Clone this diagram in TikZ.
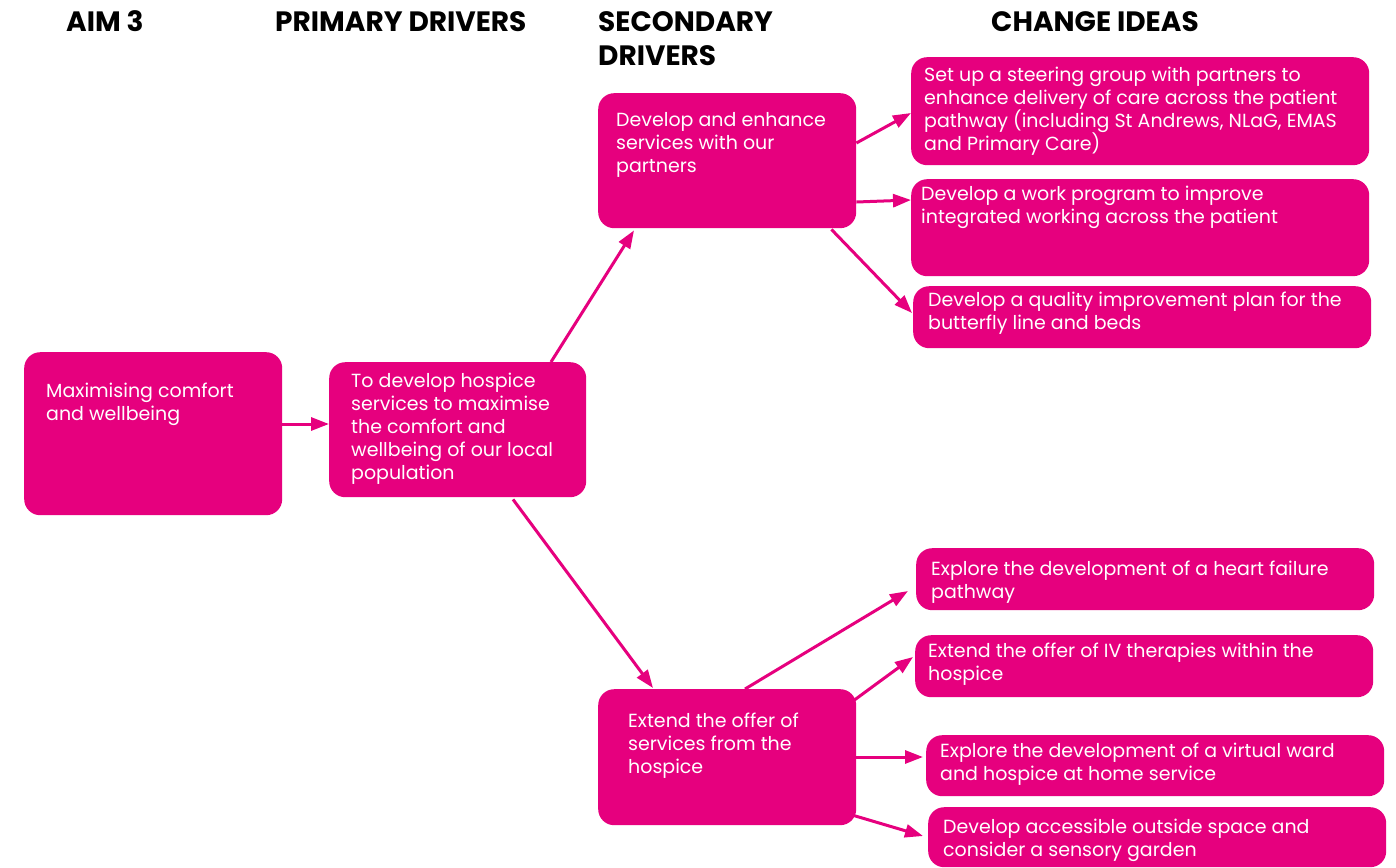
\documentclass[tikz,border=0pt]{standalone}
\usepackage{fontspec}
\setmainfont{Poppins}
\usetikzlibrary{arrows.meta,calc}
\definecolor{hpink}{HTML}{E6007E}
\newcommand{\boxtxt}[5]{\parbox[c][#2pt][t]{#1pt}{\vspace*{#4pt}\raggedright\leftskip=#3pt\relax\strut #5}}
\tikzset{
  box/.style={fill=hpink, draw=none, rounded corners=16pt, anchor=north west, inner sep=0pt, text=white, font=\fontsize{19}{23}\selectfont},
  head/.style={anchor=base west, inner sep=0pt, font=\fontsize{28}{34}\selectfont\bfseries},
  conn/.style={draw=hpink, line width=3pt, -{Triangle[length=18pt,width=13pt]}}
}
\begin{document}
\begin{tikzpicture}[x=1pt,y=-1pt]
\useasboundingbox[fill=white] (0,0) rectangle (1396,867);
% headings
\node[head] (h1) at (66,31.5) {AIM 3};
\node[head] (h2) at (275,31.5) {PRIMARY DRIVERS};
\node[head] (h3) at (598,31.5) {SECONDARY};
\node[head] (h3b) at (598,65.5) {DRIVERS};
\node[head] (h4) at (991,31.5) {CHANGE IDEAS};
% boxes
\node[box] (aim) at (24,352) {\boxtxt{258}{163}{22}{28.9}{Maximising comfort\\and wellbeing}};
\node[box] (pri) at (329,362) {\boxtxt{257}{135}{22}{8.9}{To develop hospice\\services to maximise\\the comfort and\\wellbeing of our local\\population}};
\node[box] (s1) at (598,93) {\boxtxt{258}{135}{18}{16.9}{Develop and enhance\\services with our\\partners}};
\node[box] (s2) at (598,689) {\boxtxt{258}{136}{30}{21.9}{Extend the offer of\\services from the\\hospice}};
\node[box] (c1) at (911,57) {\boxtxt{458}{108}{13}{7.9}{Set up a steering group with partners to\\enhance delivery of care across the patient\\pathway (including St Andrews, NLaG, EMAS\\and Primary Care)}};
\node[box] (c2) at (911,179) {\boxtxt{458}{97}{10}{4.9}{Develop a work program to improve\\integrated working across the patient}};
\node[box] (c3) at (913,286) {\boxtxt{458}{62}{15}{3.9}{Develop a quality improvement plan for the\\butterfly line and beds}};
\node[box] (c4) at (916,548) {\boxtxt{458}{62}{15}{10.9}{Explore the development of a heart failure\\pathway}};
\node[box] (c5) at (915,635) {\boxtxt{458}{62}{13}{5.9}{Extend the offer of IV therapies within the\\hospice}};
\node[box] (c6) at (926,735) {\boxtxt{458}{61}{14}{5.9}{Explore the development of a virtual ward\\and hospice at home service}};
\node[box] (c7) at (928,807) {\boxtxt{458}{60}{15}{9.9}{Develop accessible outside space and\\consider a sensory garden}};
% connectors
\draw[conn] ($(aim.north east)+(0,72)$) -- ($(pri.north west)+(0,62)$);
\draw[conn] ($(pri.north west)+(222,0)$) -- ($(s1.south west)+(36,2)$);
\draw[conn] ($(pri.south west)+(184,2)$) -- ($(s2.north west)+(55,-1)$);
\draw[conn] ($(s1.north east)+(0,50)$) -- ($(c1.north west)+(0,56)$);
\draw[conn] ($(s1.north east)+(0,109)$) -- ($(c2.north west)+(0,21)$);
\draw[conn] ($(s1.south east)+(-25,1)$) -- ($(c3.north west)+(-1,27)$);
\draw[conn] ($(s2.north west)+(147,0)$) -- ($(c4.north west)+(-8,43)$);
\draw[conn] ($(s2.north east)+(-2,11)$) -- ($(c5.north west)+(-2,22)$);
\draw[conn] ($(s2.north east)+(0,68)$) -- ($(c6.north west)+(-3,22)$);
\draw[conn] ($(s2.south east)+(-3,-10)$) -- ($(c7.north west)+(-5,29)$);
\end{tikzpicture}
\end{document}
